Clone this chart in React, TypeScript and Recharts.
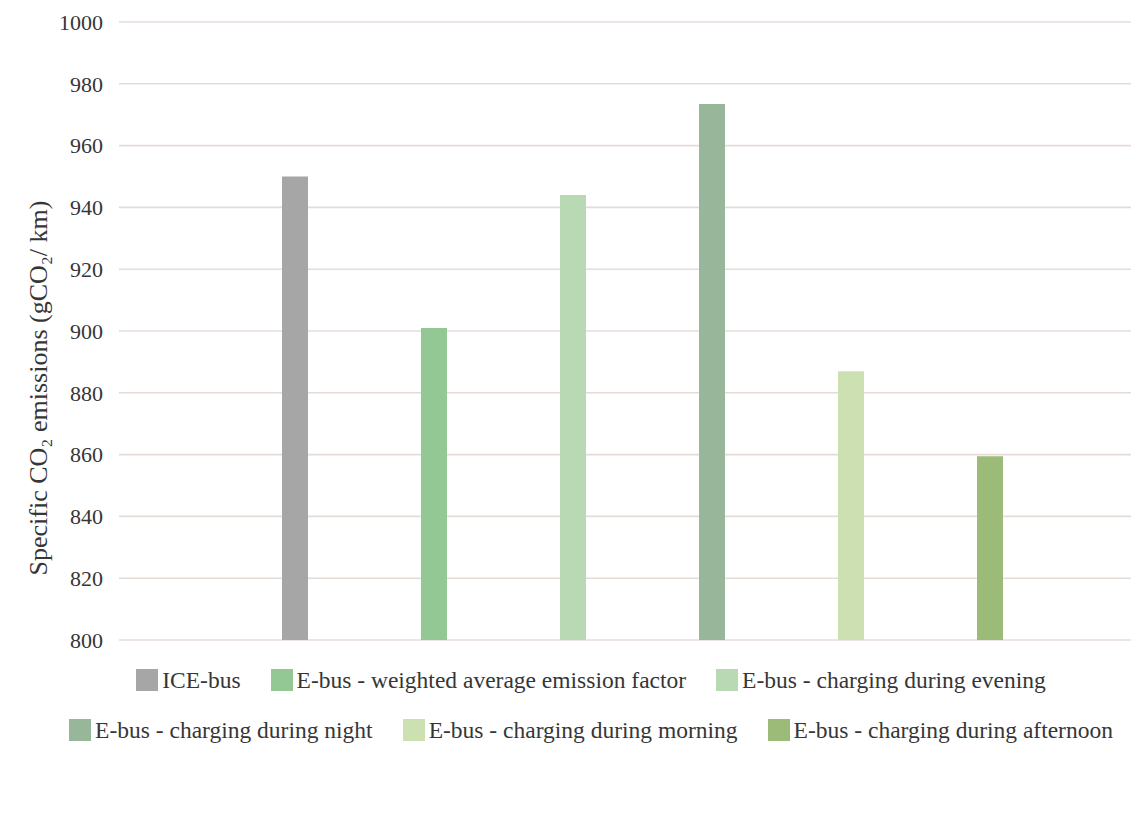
import { BarChart, Bar, XAxis, YAxis, CartesianGrid, Legend } from 'recharts';

const categories = ['Specific CO2 emissions'];
const seriesNames = [
  'ICE-bus',
  'E-bus - weighted average emission factor',
  'E-bus - charging during evening',
  'E-bus - charging during night',
  'E-bus - charging during morning',
  'E-bus - charging during afternoon',
];
const seriesValues = [950, 901, 944, 973.5, 887, 859.5];
const seriesColors = ['#a6a6a6', '#93c794', '#b8d9b3', '#98b69a', '#cce0b2', '#9cbb79'];
const yTicks = [800, 820, 840, 860, 880, 900, 920, 940, 960, 980, 1000];

const data = categories.map((name) => {
  const row: Record<string, string | number> = { name };
  seriesValues.forEach((v, i) => {
    row['s' + i] = v;
  });
  return row;
});

const FONT = '"Liberation Serif", "DejaVu Serif", serif';
const TEXT = '#363636';

function LegendRows(props: any) {
  // keep series order instead of the alphabetical legend order
  const items = [...(props.payload || [])].sort(
    (a: any, b: any) => seriesNames.indexOf(a.value) - seriesNames.indexOf(b.value)
  );
  const rows = [items.slice(0, 3), items.slice(3)];
  return (
    <div style={{ paddingTop: 15, paddingLeft: 51, height: 105, fontFamily: FONT, fontSize: 23.5, color: TEXT }}>
      {rows.map((row: any[], r: number) => (
        <div key={r} style={{ display: 'flex', justifyContent: 'center', alignItems: 'center', height: 50, gap: 30 }}>
          {row.map((it: any) => (
            <div key={it.value} style={{ display: 'flex', alignItems: 'center' }}>
              <span style={{ width: 22, height: 22, background: it.color, display: 'inline-block', marginRight: 4 }} />
              <span>{it.value}</span>
            </div>
          ))}
        </div>
      ))}
    </div>
  );
}

function YLabel(props: any) {
  const vb = props.viewBox || { x: 0, y: 0, width: 0, height: 0 };
  const cx = vb.x + 38;
  const cy = vb.y + vb.height / 2 + 57;
  return (
    <text
      x={cx}
      y={cy}
      transform={`rotate(-90 ${cx} ${cy})`}
      textAnchor="middle"
      dominantBaseline="central"
      fontFamily={FONT}
      fontSize={26}
      fill={TEXT}
    >
      Specific CO₂ emissions (gCO₂/ km)
    </text>
  );
}

export default function App() {
  return (
    <div style={{ position: 'absolute', left: 0, top: 0, width: 1137, height: 816, background: '#fff' }}>
      <BarChart
        width={1137}
        height={816}
        data={data}
        margin={{ top: 22, right: 6, left: 0, bottom: 56 }}
        barSize={26}
        barGap={113}
      >
        <CartesianGrid vertical={false} stroke="#e6dcd7" strokeWidth={1.6} />
        <XAxis dataKey="name" hide padding={{ left: 34, right: 0 }} />
        <YAxis
          type="number"
          domain={[800, 1000]}
          ticks={yTicks}
          interval={0}
          width={119}
          axisLine={false}
          tickLine={false}
          tickMargin={10}
          tick={{ fill: TEXT, fontSize: 22, fontFamily: FONT }}
          label={<YLabel />}
        />
        <Legend verticalAlign="bottom" content={<LegendRows />} />
        {seriesNames.map((n, i) => (
          <Bar key={n} dataKey={'s' + i} name={n} fill={seriesColors[i]} isAnimationActive={false} />
        ))}
      </BarChart>
    </div>
  );
}
